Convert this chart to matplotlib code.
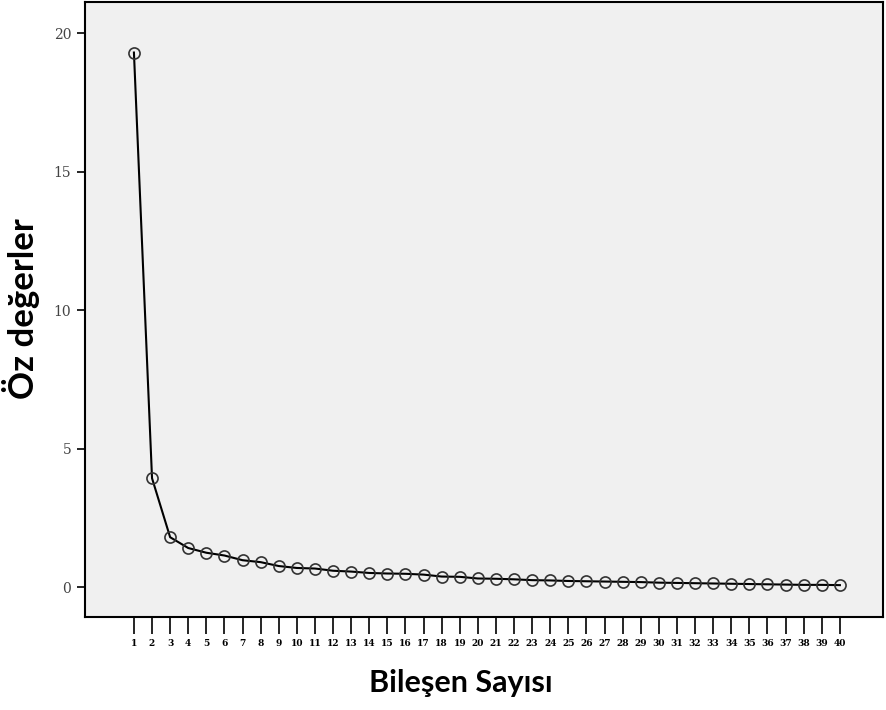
import matplotlib
matplotlib.use("Agg")
import matplotlib.pyplot as plt

# bileşen numaraları ve öz değerler
bilesen = list(range(1, 41))
oz_degerler = [19.3, 3.93, 1.80, 1.41, 1.24, 1.14, 0.97, 0.90, 0.76, 0.69,
               0.67, 0.59, 0.56, 0.51, 0.49, 0.48, 0.45, 0.38, 0.37, 0.31,
               0.30, 0.28, 0.25, 0.24, 0.22, 0.21, 0.20, 0.19, 0.18, 0.16,
               0.15, 0.14, 0.13, 0.12, 0.11, 0.10, 0.09, 0.08, 0.08, 0.07]
y_ticks = [0, 5, 10, 15, 20]

fig = plt.figure(figsize=(8.86, 7.10), dpi=100)
ax = fig.add_axes([0.096, 0.131, 0.901, 0.866])
ax.set_facecolor("#f0f0f0")

ax.plot(bilesen, oz_degerler, color="black", linewidth=1.5,
        marker="o", markersize=8, markerfacecolor="none",
        markeredgecolor="#333333", markeredgewidth=1.2)

ax.set_xlim(-1.7, 42.4)
ax.set_ylim(-1.08, 21.12)
ax.set_xticks(bilesen)
ax.set_xticklabels([str(b) for b in bilesen], fontsize=6.5,
                   family="DejaVu Serif", fontweight="bold")
ax.set_yticks(y_ticks)
ax.set_yticklabels([str(t) for t in y_ticks], fontsize=10,
                   family="DejaVu Serif", color="#444444")

ax.tick_params(axis="x", direction="out", length=12, width=1.2, pad=4)
ax.tick_params(axis="y", direction="out", length=6, width=1.2, pad=4)
for s in ax.spines.values():
    s.set_linewidth(1.5)

# eksen başlıkları: referanstaki konumlara göre
fig.text(461 / 886, 1 - 683 / 710, "Bileşen Sayısı", fontsize=22,
         fontweight="bold", family="Lato", ha="center", va="center")
fig.text(21 / 886, 1 - 309 / 710, "Öz değerler", fontsize=25,
         fontweight="bold", family="Lato", ha="center", va="center",
         rotation=90)

fig.savefig("out.png", dpi=100)
